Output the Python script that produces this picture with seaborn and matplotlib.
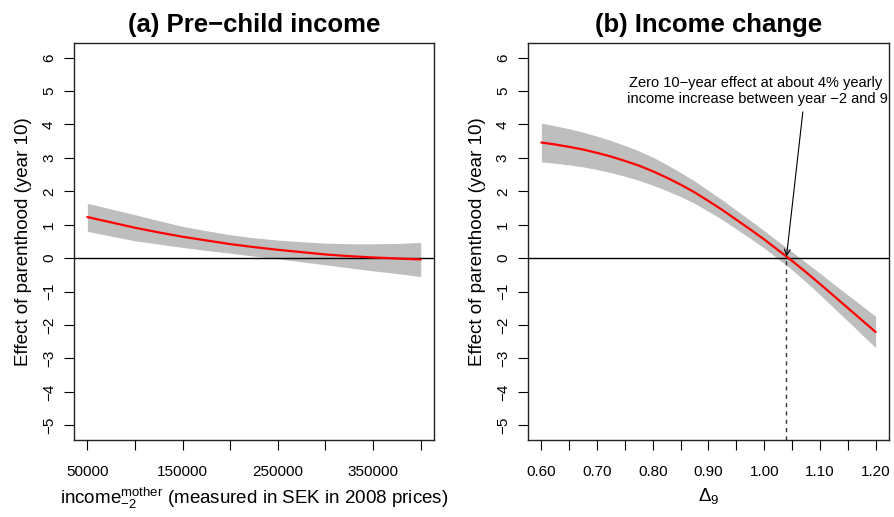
import numpy as np
import pandas as pd
import seaborn as sns
from matplotlib import pyplot as plt

# Panel (a): pre-child income
income = [50000, 75000, 100000, 125000, 150000, 175000, 200000, 225000,
          250000, 275000, 300000, 325000, 350000, 375000, 400000]
effect_a = [1.23, 1.07, 0.91, 0.77, 0.64, 0.53, 0.42, 0.33,
            0.25, 0.18, 0.11, 0.06, 0.02, -0.01, -0.04]
upper_a = [1.64, 1.47, 1.30, 1.12, 0.95, 0.82, 0.70, 0.61,
           0.54, 0.49, 0.45, 0.43, 0.43, 0.44, 0.47]
lower_a = [0.80, 0.66, 0.52, 0.42, 0.32, 0.23, 0.15, 0.06,
           -0.02, -0.11, -0.20, -0.29, -0.38, -0.46, -0.55]

# Panel (b): income change
delta = [0.600, 0.625, 0.650, 0.675, 0.700, 0.725, 0.750, 0.775, 0.800, 0.825,
         0.850, 0.875, 0.900, 0.925, 0.950, 0.975, 1.000, 1.025, 1.050, 1.075,
         1.100, 1.125, 1.150, 1.175, 1.200]
effect_b = [3.46, 3.40, 3.33, 3.25, 3.15, 3.04, 2.91, 2.77, 2.60, 2.41,
            2.20, 1.97, 1.71, 1.44, 1.15, 0.86, 0.56, 0.24, -0.08, -0.42,
            -0.77, -1.13, -1.49, -1.85, -2.21]
upper_b = [4.04, 3.96, 3.87, 3.77, 3.65, 3.52, 3.37, 3.21, 3.02, 2.80,
           2.56, 2.31, 2.02, 1.74, 1.43, 1.13, 0.82, 0.50, 0.19, -0.13,
           -0.45, -0.78, -1.10, -1.42, -1.74]
lower_b = [2.88, 2.84, 2.79, 2.73, 2.65, 2.56, 2.45, 2.33, 2.18, 2.02,
           1.84, 1.64, 1.40, 1.15, 0.87, 0.59, 0.30, -0.02, -0.35, -0.71,
           -1.09, -1.49, -1.88, -2.28, -2.68]
zero_delta = 1.04

y_ticks = list(range(-5, 7))
y_labels = [str(v).replace('-', '\u2212') for v in y_ticks]
x_ticks_a = [50000, 100000, 150000, 200000, 250000, 300000, 350000, 400000]
x_labels_a = ['50000', '', '150000', '', '250000', '', '350000', '']
x_ticks_b = [0.60, 0.65, 0.70, 0.75, 0.80, 0.85, 0.90, 0.95, 1.00, 1.05, 1.10, 1.15, 1.20]
x_labels_b = ['0.60', '', '0.70', '', '0.80', '', '0.90', '', '1.00', '', '1.10', '', '1.20']

sns.set_style('ticks')
plt.rcParams['font.family'] = ['Liberation Sans', 'DejaVu Sans']
plt.rcParams['mathtext.fontset'] = 'custom'
plt.rcParams['mathtext.rm'] = 'Liberation Sans'
plt.rcParams['mathtext.it'] = 'Liberation Sans:italic'
for key in ['text.color', 'axes.labelcolor', 'xtick.color', 'ytick.color']:
    plt.rcParams[key] = 'black'

fig = plt.figure(figsize=(8.94, 5.17), dpi=100)
ax_a = fig.add_axes([0.0828, 0.149, 0.4027, 0.768])
ax_b = fig.add_axes([0.5906, 0.149, 0.4038, 0.768])

df_a = pd.DataFrame({'x': income, 'y': effect_a})
df_b = pd.DataFrame({'x': delta, 'y': effect_b})

for ax, df, lo, hi in [(ax_a, df_a, lower_a, upper_a), (ax_b, df_b, lower_b, upper_b)]:
    ax.fill_between(df['x'], lo, hi, color='#BEBEBE', linewidth=0, zorder=1)
    sns.lineplot(data=df, x='x', y='y', ax=ax, color='red', linewidth=1.6, zorder=3)
    ax.axhline(0, color='black', linewidth=1, zorder=2)
    ax.set_ylim(-5.44, 6.44)
    ax.set_yticks(y_ticks)
    ax.set_yticklabels(y_labels, rotation=90, va='center')
    ax.set_ylabel('Effect of parenthood (year 10)', fontsize=13.5, labelpad=7)
    ax.tick_params(axis='both', length=7, width=0.8, colors='black', labelsize=11, pad=6)
    ax.tick_params(axis='x', pad=11)
    for sp in ax.spines.values():
        sp.set_visible(True)
        sp.set_linewidth(1)
        sp.set_color('#222222')

ax_a.set_xlim(36000, 414000)
ax_a.set_xticks(x_ticks_a)
ax_a.set_xticklabels(x_labels_a)
ax_a.set_xlabel(r'income$^{\mathrm{mother}}_{-2}$ (measured in SEK in 2008 prices)', fontsize=13.5, labelpad=5)
ax_a.set_title('(a) Pre\u2212child income', fontsize=18.5, fontweight='bold', pad=8)

ax_b.set_xlim(0.576, 1.224)
ax_b.set_xticks(x_ticks_b)
ax_b.set_xticklabels(x_labels_b)
ax_b.set_xlabel(r'$\Delta_9$', fontsize=13.5, labelpad=5)
ax_b.set_title('(b) Income change', fontsize=18.5, fontweight='bold', pad=8)

# Zero crossing marker and annotation
ax_b.plot([zero_delta, zero_delta], [-5.44, 0], color='#333333', linestyle=(0, (3, 3)), linewidth=1, zorder=2)
ax_b.annotate('Zero 10\u2212year effect at about 4% yearly\n income increase between year \u22122 and 9',
              xy=(zero_delta, 0.05), xytext=(0.985, 5.0),
              ha='center', va='center', fontsize=10.5, linespacing=1.15,
              arrowprops=dict(arrowstyle='->', color='black', lw=0.8,
                              shrinkA=2, shrinkB=0, relpos=(0.68, 0.0)))

fig.savefig('out.png', dpi=100)
plt.close()
